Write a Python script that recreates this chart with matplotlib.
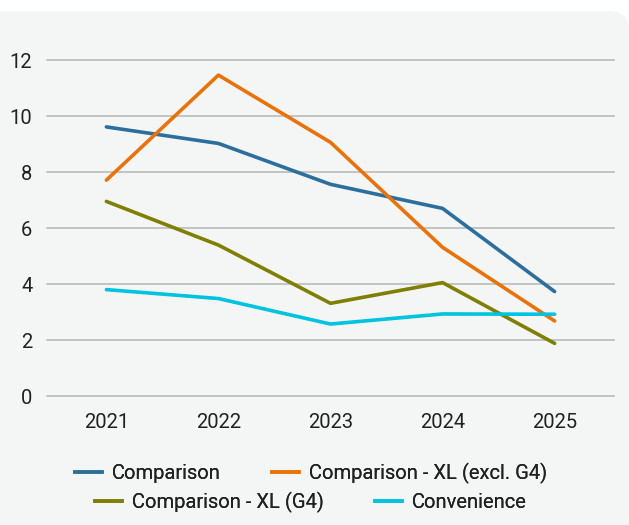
import matplotlib
matplotlib.use("Agg")
import matplotlib.pyplot as plt
from matplotlib.patches import FancyBboxPatch
from matplotlib.lines import Line2D

plt.rcParams['font.family'] = ['Roboto', 'DejaVu Sans']

years = ['2021', '2022', '2023', '2024', '2025']
comparison = [9.61, 9.02, 7.56, 6.70, 3.73]
comparison_xl_excl = [7.71, 11.46, 9.06, 5.31, 2.68]
comparison_xl_g4 = [6.95, 5.39, 3.31, 4.05, 1.88]
convenience = [3.80, 3.48, 2.57, 2.93, 2.92]

series = [
    ('Comparison', comparison, '#2d6f9c'),
    ('Comparison - XL (excl. G4)', comparison_xl_excl, '#e8730c'),
    ('Comparison - XL (G4)', comparison_xl_g4, '#7f7f00'),
    ('Convenience', convenience, '#00c3e0'),
]

W, H = 629, 525
FS = 14.5
fig = plt.figure(figsize=(W / 100, H / 100), dpi=100)
fig.patch.set_facecolor('white')

# light panel with rounded corner behind everything
panel = FancyBboxPatch((-40 / W, -40 / H), (W + 40) / W, (H - 11 + 40) / H,
                       boxstyle="round,pad=0,rounding_size=0.032",
                       transform=fig.transFigure, facecolor='#f4f6f6',
                       edgecolor='none', zorder=-10, mutation_aspect=W / H)
fig.patches.append(panel)

left, right = 47, 614
top, bottom = 60, 396
ax = fig.add_axes([left / W, 1 - bottom / H, (right - left) / W, (bottom - top) / H])
ax.set_facecolor('none')

x = list(range(len(years)))
for name, vals, col in series:
    ax.plot(x, vals, color=col, lw=2.6, solid_capstyle='round',
            solid_joinstyle='round', label=name, zorder=3, clip_on=False)

for yv in range(0, 13, 2):
    ax.axhline(yv, color='#b5b5b5', lw=1.1, zorder=1, clip_on=False)

ax.set_xlim(-0.53, 4.53)
ax.set_ylim(0, 12)
ax.set_xticks(x)
ax.set_xticklabels(years)
ax.set_yticks(range(0, 13, 2))
for s in ax.spines.values():
    s.set_visible(False)
ax.tick_params(axis='both', length=0, labelsize=FS, colors='#212121')
ax.tick_params(axis='x', pad=12)
ax.tick_params(axis='y', pad=10.5)

# two centred legend rows
handles = {name: Line2D([], [], color=col, lw=2.6) for name, _, col in series}
rows = [
    (['Comparison', 'Comparison - XL (excl. G4)'], 473),
    (['Comparison - XL (G4)', 'Convenience'], 502),
]
for names, yc in rows:
    leg = fig.legend([handles[n] for n in names], names, loc='center',
                     bbox_to_anchor=(311 / W, 1 - yc / H), ncol=2,
                     frameon=False, fontsize=FS, handlelength=1.34,
                     handletextpad=0.5, columnspacing=2.5, borderpad=0,
                     borderaxespad=0)
    for t in leg.get_texts():
        t.set_color('#212121')
    fig.add_artist(leg)

fig.savefig('out.png', dpi=100)
